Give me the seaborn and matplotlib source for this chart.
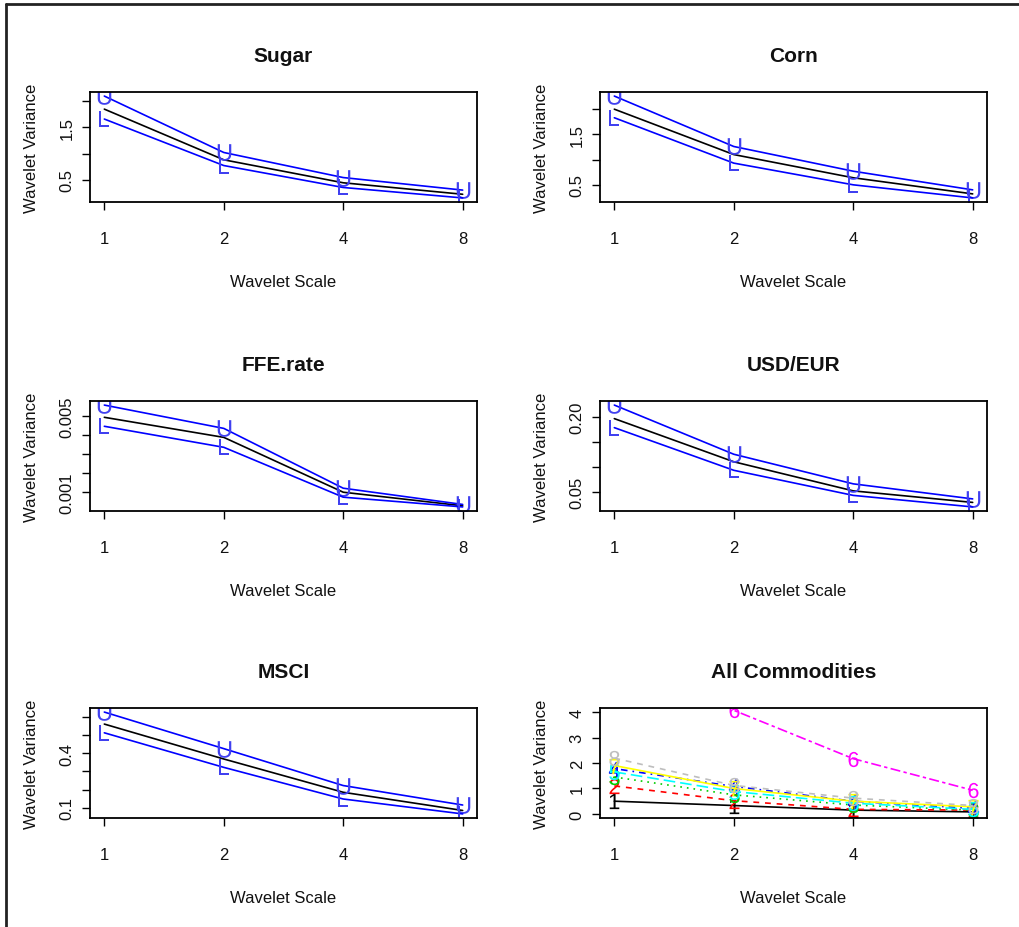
import pandas as pd
import seaborn as sns
import matplotlib
matplotlib.use("Agg")
import matplotlib.pyplot as plt
from matplotlib.lines import Line2D

# wavelet scales (x axis, log2)
scales = [1, 2, 4, 8]

# estimate / lower / upper bounds
sugar_est = [1.85, 0.88, 0.44, 0.22]
sugar_lower = [1.66, 0.77, 0.35, 0.15]
sugar_upper = [2.10, 1.02, 0.54, 0.30]

corn_est = [2.00, 1.10, 0.64, 0.32]
corn_lower = [1.83, 0.93, 0.50, 0.24]
corn_upper = [2.26, 1.26, 0.77, 0.40]

ffe_est = [0.00492, 0.00387, 0.00100, 0.00029]
ffe_lower = [0.00445, 0.00335, 0.00074, 0.00023]
ffe_upper = [0.00556, 0.00434, 0.00121, 0.00036]

usd_est = [0.196, 0.110, 0.052, 0.029]
usd_lower = [0.178, 0.093, 0.043, 0.020]
usd_upper = [0.223, 0.125, 0.066, 0.036]

msci_est = [0.560, 0.368, 0.185, 0.085]
msci_lower = [0.512, 0.322, 0.148, 0.066]
msci_upper = [0.626, 0.425, 0.222, 0.115]

# all commodities panel, series 1..8
all_names = ["1", "2", "3", "4", "5", "6", "7", "8"]
all_values = [
    [0.50, 0.33, 0.15, 0.08],
    [1.10, 0.52, 0.18, 0.15],
    [1.45, 0.75, 0.35, 0.15],
    [1.78, 1.08, 0.50, 0.22],
    [1.65, 0.88, 0.42, 0.18],
    [8.20, 4.07, 2.17, 0.93],
    [1.90, 1.00, 0.50, 0.28],
    [2.19, 1.12, 0.62, 0.33],
]
all_colors = ["black", "#FF0000", "#00CD00", "#0000FF", "#00FFFF", "#FF00FF", "#FFFF00", "#BEBEBE"]
all_dashes = ["", (3.5, 3.5), (1, 3), (1, 3, 4, 3), (7, 3), (2, 2, 6, 2), "", (3.5, 3.5)]
all_ylim = (0, 4)

# tick setup per panel
sugar_yticks = [0.5, 1.0, 1.5, 2.0]
sugar_ylabels = ["0.5", "", "1.5", ""]
corn_yticks = [0.5, 1.0, 1.5, 2.0]
corn_ylabels = ["0.5", "", "1.5", ""]
ffe_yticks = [0.001, 0.002, 0.003, 0.004, 0.005]
ffe_ylabels = ["0.001", "", "", "", "0.005"]
usd_yticks = [0.05, 0.10, 0.15, 0.20]
usd_ylabels = ["0.05", "", "", "0.20"]
msci_yticks = [0.1, 0.2, 0.3, 0.4, 0.5, 0.6]
msci_ylabels = ["0.1", "", "", "0.4", "", ""]
all_yticks = [0, 1, 2, 3, 4]
all_ylabels = ["0", "1", "2", "3", "4"]

sns.set_theme(style="white")
plt.rcParams['font.family'] = ['Liberation Sans', 'DejaVu Sans']
plt.rcParams['mathtext.fontset'] = 'custom'
plt.rcParams['mathtext.rm'] = 'Liberation Sans'
plt.rcParams['mathtext.sf'] = 'Liberation Sans'

fig = plt.figure(figsize=(10.2, 9.28), dpi=100)
W, H = 1020, 928


def make_axes(x0, x1, y0, y1):
    return fig.add_axes([x0 / W, 1 - y1 / H, (x1 - x0) / W, (y1 - y0) / H])


def style_axes(ax, title, yticks, ylabels):
    ax.set_xticks(scales)
    ax.set_xticklabels([str(s) for s in scales])
    ax.minorticks_off()
    ax.set_yticks(yticks)
    ax.set_yticklabels(ylabels)
    plt.setp(ax.get_yticklabels(), rotation=90, va='center')
    ax.tick_params(axis='both', direction='out', length=6, width=1, color='black',
                   labelsize=12, labelcolor='#111111', bottom=True, left=True)
    ax.tick_params(axis='x', pad=15)
    ax.tick_params(axis='y', pad=5)
    for sp in ax.spines.values():
        sp.set_color('black')
        sp.set_linewidth(1.3)
    ax.set_title(title, fontsize=15, fontweight='bold', pad=22, color='#111111')
    ax.set_xlabel("Wavelet Scale", fontsize=12, labelpad=20, color='#111111')
    ax.set_ylabel("Wavelet Variance", fontsize=12, labelpad=15, color='#111111')
    ax.grid(False)


def draw_panel(ax, title, est, lower, upper, yticks, ylabels):
    ax.set_xscale('log', base=2)
    df = pd.DataFrame({
        'scale': scales * 3,
        'value': est + lower + upper,
        'band': ['est'] * 4 + ['lower'] * 4 + ['upper'] * 4,
    })
    sns.lineplot(data=df[df.band == 'est'], x='scale', y='value', color='black',
                 lw=1.2, ax=ax)
    sns.lineplot(data=df[df.band == 'upper'], x='scale', y='value', color='#0000FF',
                 lw=1.2, marker=r'$\mathsf{U}$', markersize=12, markeredgewidth=0,
                 markerfacecolor='#4040F0', ax=ax)
    sns.lineplot(data=df[df.band == 'lower'], x='scale', y='value', color='#0000FF',
                 lw=1.2, marker=r'$\mathsf{L}$', markersize=12, markeredgewidth=0,
                 markerfacecolor='#4040F0', ax=ax)
    ax.margins(x=0.04, y=0.04)
    style_axes(ax, title, yticks, ylabels)


left = (90, 477)
right = (600, 987)
rows = [(93, 203), (402, 512), (709, 819)]

ax1 = make_axes(left[0], left[1], *rows[0])
draw_panel(ax1, "Sugar", sugar_est, sugar_lower, sugar_upper, sugar_yticks, sugar_ylabels)
ax2 = make_axes(right[0], right[1], *rows[0])
draw_panel(ax2, "Corn", corn_est, corn_lower, corn_upper, corn_yticks, corn_ylabels)
ax3 = make_axes(left[0], left[1], *rows[1])
draw_panel(ax3, "FFE.rate", ffe_est, ffe_lower, ffe_upper, ffe_yticks, ffe_ylabels)
ax4 = make_axes(right[0], right[1], *rows[1])
draw_panel(ax4, "USD/EUR", usd_est, usd_lower, usd_upper, usd_yticks, usd_ylabels)
ax5 = make_axes(left[0], left[1], *rows[2])
draw_panel(ax5, "MSCI", msci_est, msci_lower, msci_upper, msci_yticks, msci_ylabels)

# all commodities
ax6 = make_axes(right[0], right[1], *rows[2])
ax6.set_xscale('log', base=2)
all_df = pd.DataFrame({
    'scale': scales * len(all_names),
    'value': [v for vals in all_values for v in vals],
    'series': [n for n in all_names for _ in scales],
})
sns.lineplot(data=all_df, x='scale', y='value', hue='series', style='series',
             palette=dict(zip(all_names, all_colors)),
             dashes=dict(zip(all_names, all_dashes)),
             markers={n: r'$\mathsf{' + n + '}$' for n in all_names},
             markersize=11, markeredgewidth=0, lw=1.2, legend=False, ax=ax6)
pad = 0.04 * (all_ylim[1] - all_ylim[0])
ax6.set_ylim(all_ylim[0] - pad, all_ylim[1] + pad)
ax6.margins(x=0.04)
style_axes(ax6, "All Commodities", all_yticks, all_ylabels)
ax6.set_xlim(2 ** -0.12, 2 ** 3.12)

# outer frame (top and left edge of the original screenshot)
fig.add_artist(Line2D([6 / W, 6 / W], [0, 1 - 5 / H], color='#222222', lw=2))
fig.add_artist(Line2D([6 / W, 1], [1 - 5 / H, 1 - 5 / H], color='#222222', lw=2))

fig.savefig("out.png", dpi=100, facecolor='white')
